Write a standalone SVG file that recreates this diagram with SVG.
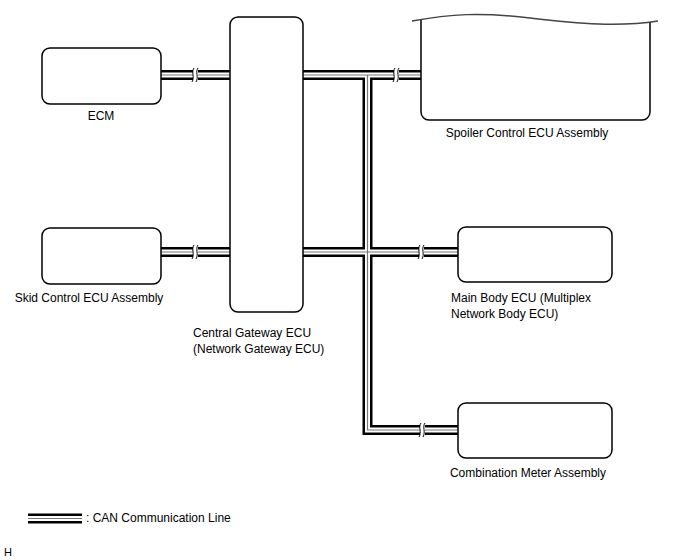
<svg xmlns="http://www.w3.org/2000/svg" width="688" height="560" viewBox="0 0 688 560">
<style>
.box{fill:#fff;stroke:#000;stroke-width:1.5}
.t{font-family:"Liberation Sans",Arial,sans-serif;font-size:12px;fill:#000}
.cb{fill:none;stroke:#000;stroke-width:10}
.cw{fill:none;stroke:#fff;stroke-width:5}
.cg{fill:none;stroke:#777;stroke-width:1.2}
.brk{fill:none;stroke:#000;stroke-width:1}
</style>
<g id="connectors">
<g id="can">
<path class="cb" d="M161,75H230M303,75H421M367.5,75V430H458M161,252H230M303,252H458"/>
<path class="cw" d="M161,75H230M303,75H421M367.5,75V430H458M161,252H230M303,252H458"/>
<path class="cg" d="M161,75H230M303,75H421M367.5,75V430H458M161,252H230M303,252H458"/>
</g>
<g id="breaks">
<rect x="193" y="68" width="5" height="14" fill="#fff"/>
<path class="brk" d="M194,68c-3,4 1,9 -2,14M198,68c-3,4 1,9 -2,14"/>
<rect x="394" y="68" width="5" height="14" fill="#fff"/>
<path class="brk" d="M395,68c-3,4 1,9 -2,14M399,68c-3,4 1,9 -2,14"/>
<rect x="193" y="245" width="5" height="14" fill="#fff"/>
<path class="brk" d="M194,245c-3,4 1,9 -2,14M198,245c-3,4 1,9 -2,14"/>
<rect x="419" y="245" width="5" height="14" fill="#fff"/>
<path class="brk" d="M420,245c-3,4 1,9 -2,14M424,245c-3,4 1,9 -2,14"/>
<rect x="420" y="423" width="5" height="14" fill="#fff"/>
<path class="brk" d="M421,423c-3,4 1,9 -2,14M425,423c-3,4 1,9 -2,14"/>
</g>
</g>
<g id="ecm">
<rect class="box" x="42" y="48" width="119" height="56" rx="8"/>
<text class="t" x="101" y="120" text-anchor="middle">ECM</text>
</g>
<g id="skid">
<rect class="box" x="42" y="228" width="119" height="56" rx="8"/>
<text class="t" x="89" y="302" text-anchor="middle">Skid Control ECU Assembly</text>
</g>
<g id="gateway">
<rect class="box" x="230" y="17" width="73" height="295" rx="8"/>
<text class="t" x="193" y="337">Central Gateway ECU</text>
<text class="t" x="193" y="353">(Network Gateway ECU)</text>
</g>
<g id="spoiler">
<path class="box" d="M421,19V112a8,8 0 0 0 8,8H642a8,8 0 0 0 8,-8V22"/>
<path d="M412,21C450,14 480,12 530,18S620,27 658,21" fill="none" stroke="#444" stroke-width="1.4"/>
<text class="t" x="527" y="137" text-anchor="middle">Spoiler Control ECU Assembly</text>
</g>
<g id="mainbody">
<rect class="box" x="458" y="227" width="154" height="55" rx="8"/>
<text class="t" x="451" y="302">Main Body ECU (Multiplex</text>
<text class="t" x="451" y="318">Network Body ECU)</text>
</g>
<g id="combmeter">
<rect class="box" x="458" y="403" width="154" height="55" rx="8"/>
<text class="t" x="528" y="477" text-anchor="middle">Combination Meter Assembly</text>
</g>
<g id="legend">
<path class="cb" d="M28,518.5H82"/>
<path class="cw" d="M28,518.5H82"/>
<path class="cg" d="M28,518.5H82"/>
<text class="t" x="86" y="522">: CAN Communication Line</text>
</g>
<text class="t" x="4" y="556" style="font-size:11px">H</text>
</svg>
